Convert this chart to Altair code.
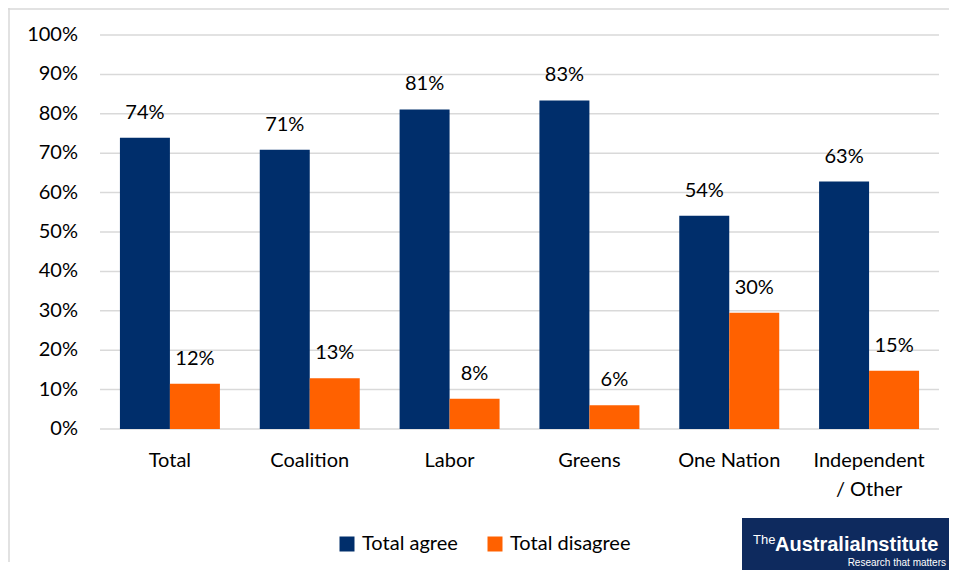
import altair as alt
import pandas as pd

categories = ["Total", "Coalition", "Labor", "Greens", "One Nation", "Independent / Other"]
series = ["Total agree", "Total disagree"]
agree = [0.739, 0.709, 0.811, 0.834, 0.541, 0.628]
disagree = [0.115, 0.129, 0.077, 0.060, 0.295, 0.148]
tick_values = [0.0, 0.1, 0.2, 0.3, 0.4, 0.5, 0.6, 0.7, 0.8, 0.9, 1.0]
colors = ["#002E6B", "#FF6100"]

rows = []
for c, a, d in zip(categories, agree, disagree):
    rows.append({"category": c, "series": series[0], "value": a})
    rows.append({"category": c, "series": series[1], "value": d})
df = pd.DataFrame(rows)
ticks_df = pd.DataFrame({"value": tick_values})

FONT = "Lato"
LOGO_FONT = "Liberation Sans"

y_scale = alt.Scale(domain=[0, 1], nice=False)

x_enc = alt.X(
    "category:N",
    sort=categories,
    scale=alt.Scale(paddingInner=0.285, paddingOuter=0.1425),
    axis=alt.Axis(
        title=None,
        domain=False,
        ticks=False,
        grid=False,
        labelAngle=0,
        labelPadding=21,
        labelFontSize=20,
        labelFont=FONT,
        labelColor="#000000",
        labelBaseline="top",
        labelLineHeight=29,
        labelOverlap=False,
        labelExpr="datum.value == 'Independent / Other' ? ['Independent', '/ Other'] : datum.label",
    ),
)
y_enc = alt.Y("value:Q", scale=y_scale, axis=None)
xoff = alt.XOffset("series:N", sort=series, scale=alt.Scale(paddingInner=0, paddingOuter=0))

grid = alt.Chart(ticks_df).mark_rule(color="#D9D9D9", strokeWidth=1.5).encode(
    y=alt.Y("value:Q", scale=y_scale, axis=None),
    x=alt.value(0),
    x2=alt.value(839),
)
ylabels = alt.Chart(ticks_df).mark_text(
    align="right", baseline="middle", fontSize=20, font=FONT, color="#000000"
).encode(
    y=alt.Y("value:Q", scale=y_scale, axis=None),
    x=alt.value(-22),
    text=alt.Text("value:Q", format=".0%"),
)

bars = alt.Chart(df).mark_bar().encode(
    x=x_enc,
    xOffset=xoff,
    y=y_enc,
    color=alt.Color(
        "series:N",
        sort=series,
        scale=alt.Scale(domain=series, range=colors),
        legend=alt.Legend(
            title=None,
            orient="none",
            direction="horizontal",
            legendX=237,
            legendY=499,
            padding=0,
            symbolType="square",
            symbolSize=225,
            symbolStrokeWidth=0,
            labelFontSize=20,
            labelFont=FONT,
            labelColor="#000000",
            labelOffset=5,
            columnPadding=27,
        ),
    ),
)

labels = alt.Chart(df).mark_text(
    dy=-25, baseline="middle", align="center", fontSize=20, font=FONT, color="#000000"
).encode(
    x=x_enc,
    xOffset=xoff,
    y=y_enc,
    text=alt.Text("value:Q", format=".0%"),
)

logo_df = pd.DataFrame({"name": ["The Australia Institute"]})
logo_rect = alt.Chart(logo_df).mark_rect(color="#0E2A5E").encode(
    x=alt.value(642), x2=alt.value(849), y=alt.value(483), y2=alt.value(535)
)
logo_the = alt.Chart(logo_df).mark_text(
    text="The", color="white", fontSize=13, font=LOGO_FONT, align="left", baseline="alphabetic"
).encode(x=alt.value(653), y=alt.value(509))
logo_main = alt.Chart(logo_df).mark_text(
    text="AustraliaInstitute", color="white", fontSize=20, font=LOGO_FONT,
    fontWeight="bold", align="left", baseline="alphabetic"
).encode(x=alt.value(675), y=alt.value(516))
logo_sub = alt.Chart(logo_df).mark_text(
    text="Research that matters", color="white", fontSize=10, font=LOGO_FONT,
    align="right", baseline="alphabetic"
).encode(x=alt.value(846), y=alt.value(531))

border_top = alt.Chart(logo_df).mark_rule(color="#D9D9D9", strokeWidth=1.5).encode(
    x=alt.value(-92), x2=alt.value(849), y=alt.value(-26)
)
border_left = alt.Chart(logo_df).mark_rule(color="#D9D9D9", strokeWidth=1.5).encode(
    x=alt.value(-91), y=alt.value(-27), y2=alt.value(527)
)

chart = alt.layer(
    grid, ylabels, bars, labels, border_top, border_left, logo_rect, logo_the, logo_main, logo_sub
).properties(
    width=839,
    height=394,
    autosize=alt.AutoSizeParams(type="none"),
    padding={"left": 92, "top": 27, "right": 10, "bottom": 141},
).configure_view(stroke=None)

chart.save("out.html", embed_options={"renderer": "svg", "actions": False})
